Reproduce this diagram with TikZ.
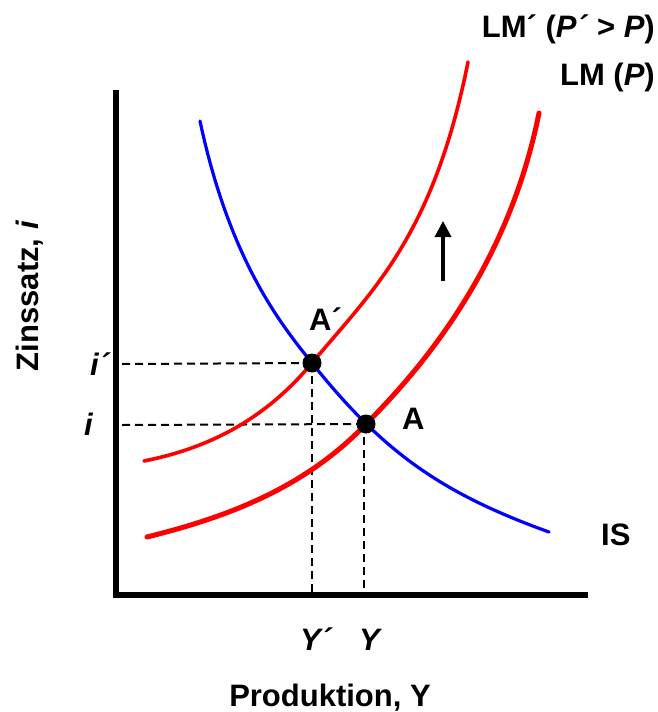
\documentclass[tikz,border=0pt]{standalone}
\usepackage{fontspec}
\setmainfont{Liberation Sans}
\usetikzlibrary{arrows.meta}
\begin{document}
\begin{tikzpicture}[x=1pt,y=-1pt,
  lbl/.style={font=\fontsize{31}{37}\selectfont\bfseries, inner sep=0pt},
  axisline/.style={line width=5.5pt},
  guide/.style={line width=2pt, dash pattern=on 8pt off 5pt},
  iscurve/.style={blue, line width=3.2pt, line cap=round},
  lmcurve/.style={red, line width=5pt, line cap=round},
  lmpcurve/.style={red, line width=3.6pt, line cap=round},
  dot/.style={fill=black}]
\useasboundingbox (0,0) rectangle (657,712);
% axes
\coordinate (O) at (116,595);
\coordinate (ytop) at (116,93);
\coordinate (xend) at (585,595);
\draw[axisline, line cap=rect] (ytop) -- (O) -- (xend);
% points
\coordinate (Ap) at (312,363);
\coordinate (A) at (366,424);
\coordinate (ip) at (122,364);
\coordinate (i) at (122,425);
\coordinate (Yp) at (312,595);
\coordinate (Y) at (364,595);
\coordinate (Ybot) at (364,424);
% guides
\draw[guide] (ip) -- (Ap);
\draw[guide] (i) -- (A);
\draw[guide] (Ap) -- (Yp);
\draw[guide] (Ybot) -- (Y);
% curve ends
\coordinate (lmpS) at (144,461);
\coordinate (lmpE) at (468,62);
\coordinate (lmS) at (147,537);
\coordinate (lmE) at (539,113);
\coordinate (isS) at (200,121);
\coordinate (isE) at (549,532);
% curves
\draw[lmpcurve] (lmpS) .. controls (204,449) and (262,423) .. (Ap)
  .. controls (372,291) and (433,237) .. (lmpE);
\draw[lmcurve] (lmS) .. controls (217,519.5) and (301,492.25) .. (A)
  .. controls (426,364) and (509,263) .. (lmE);
\draw[iscurve] (isS) .. controls (230,262) and (282,325.5) .. (Ap)
  .. controls (382,450.5) and (439,492.4) .. (isE);
% dots
\fill[dot] (Ap) circle (9.5);
\fill[dot] (A) circle (9.5);
% arrow
\coordinate (arrS) at (443,281);
\coordinate (arrE) at (443,221);
\draw[line width=3.5pt, -{Triangle[length=16pt,width=16pt]}] (arrS) -- (arrE);
% labels
\node[lbl, anchor=base east] (lmp) at (655,37) {LM´ (\textit{P´} > \textit{P})};
\node[lbl, anchor=base east] (lm) at (655,85) {LM (\textit{P})};
\node[lbl, anchor=base west] (lAp) at (309,330) {A´};
\node[lbl, anchor=base west] (lA) at (402,429) {A};
\node[lbl, anchor=base west] (lIS) at (601,545) {IS};
\node[lbl, anchor=base west] (lip) at (90,375) {\textit{i´}};
\node[lbl, anchor=base west] (li) at (84,435) {\textit{i}};
\node[lbl, anchor=base west] (lYp) at (300,650) {\textit{Y´}};
\node[lbl, anchor=base west] (lY) at (359,650) {\textit{Y}};
\node[lbl, anchor=base] (lx) at (330,706) {Produktion, Y};
\node[lbl, anchor=base, rotate=90] (ly) at (38,296) {Zinssatz, \textit{i}};
\end{tikzpicture}
\end{document}
